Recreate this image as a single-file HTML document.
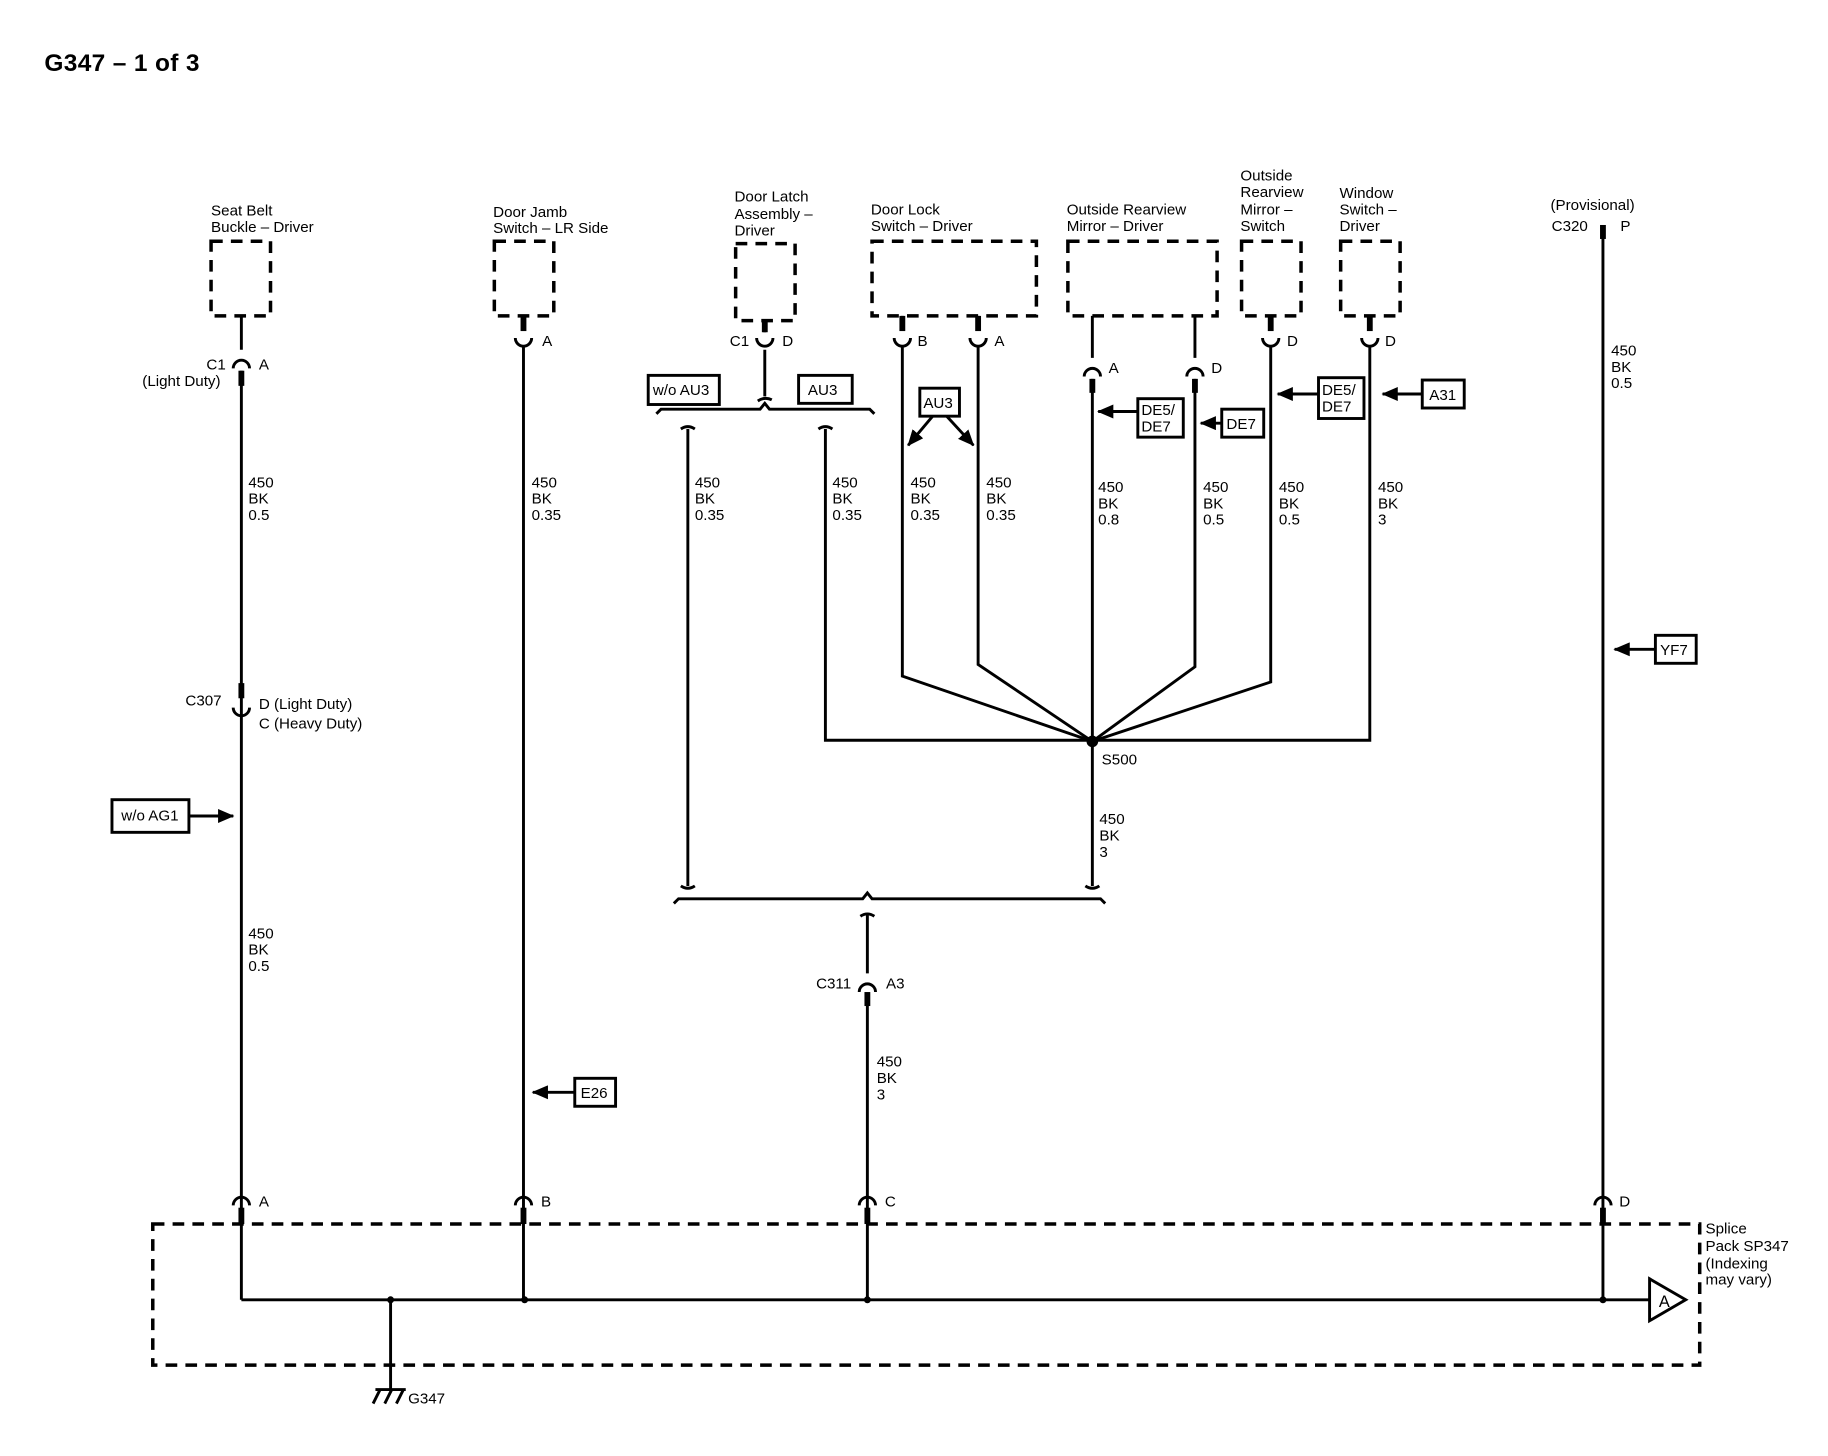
<!DOCTYPE html>
<html><head><meta charset="utf-8"><style>
html,body{margin:0;padding:0;background:#fff}
svg{display:block}
text{font-family:"Liberation Sans",Arial,sans-serif;font-size:13px;fill:#000}
</style></head><body>
<svg width="1828" height="1456" viewBox="0 0 1568 1249" xmlns="http://www.w3.org/2000/svg">
<defs>
<marker id="ar2" markerWidth="14" markerHeight="12" refX="13" refY="6" orient="auto" markerUnits="userSpaceOnUse"><path d="M0,0 L14,6 L0,12 z" fill="#000"/></marker>
</defs>
<text x="38" y="61" style="font-size:21px;font-weight:bold;letter-spacing:0.3px">G347 – 1 of 3</text>

<g fill="none" stroke="#000" stroke-width="3" stroke-dasharray="10,7">
<rect x="181" y="207" width="51" height="64"/>
<rect x="424" y="207" width="51" height="64"/>
<rect x="631" y="209" width="51" height="66"/>
<rect x="748" y="207" width="141" height="64"/>
<rect x="916" y="207" width="128" height="64"/>
<rect x="1065" y="207" width="51" height="64"/>
<rect x="1150" y="207" width="51" height="64"/>
<rect x="131" y="1050" width="1327" height="121"/>
</g>

<g fill="none" stroke="#000" stroke-width="2.5">
<path d="M207,271V300 M207,318V1115"/>
<path d="M449,271V282 M449,298V1115"/>
<path d="M656,275V285 M656,300V340"/>
<path d="M774,271V282 M774,298V580 L937,636"/>
<path d="M839,271V282 M839,298V570 L937,636"/>
<path d="M937,271V307 M937,325V760"/>
<path d="M1025,271V307 M1025,325V572 L937,636"/>
<path d="M1090,271V282 M1090,298V585 L937,636"/>
<path d="M1175,271V282 M1175,298V635 H708 V368"/>
<path d="M590,368V760"/>
<path d="M744,785V835 M744,853V1115"/>
<path d="M1375,195V1115"/>
<path d="M207,1115H1415"/>
<path d="M335,1115V1192"/>
<path d="M563,355 l4,-4 H652 l4,-5 l4,5 H746 l4,4"/>
<path d="M650,344 q6,-4 12,-1"/>
<path d="M584,368 q6,-4 12,0 M702,368 q6,-4 12,0"/>
<path d="M584,760 q6,4 12,0 M931,760 q6,4 12,0"/>
<path d="M578,775 l4,-4 H740 l4,-5 l4,5 H944 l4,4"/>
<path d="M738,786 q6,-4 12,0"/>
<path d="M200,316 A7,7 0 0 1 214,316"/>
<path d="M200,607 A7,7 0 0 0 214,607"/>
<path d="M442,290 A7,7 0 0 0 456,290"/>
<path d="M649,290 A7,7 0 0 0 663,290"/>
<path d="M767,290 A7,7 0 0 0 781,290"/>
<path d="M832,290 A7,7 0 0 0 846,290"/>
<path d="M1083,290 A7,7 0 0 0 1097,290"/>
<path d="M1168,290 A7,7 0 0 0 1182,290"/>
<path d="M930,323 A7,7 0 0 1 944,323"/>
<path d="M1018,323 A7,7 0 0 1 1032,323"/>
<path d="M737,851 A7,7 0 0 1 751,851"/>
<path d="M200,1034 A7,7 0 0 1 214,1034"/>
<path d="M442,1034 A7,7 0 0 1 456,1034"/>
<path d="M737,1034 A7,7 0 0 1 751,1034"/>
<path d="M1368,1034 A7,7 0 0 1 1382,1034"/>
<path d="M322,1192H348 M326,1192 l-6,12 M336,1192 l-6,12 M346,1192 l-6,12"/>
<path d="M1415,1097 L1446,1115 L1415,1133 Z"/>
<rect x="96" y="686" width="66" height="28"/>
<rect x="493" y="925" width="35" height="24"/>
<rect x="556" y="322" width="61" height="25"/>
<rect x="685" y="322" width="46" height="24"/>
<rect x="789" y="333" width="34" height="24"/>
<rect x="976" y="342" width="39" height="33"/>
<rect x="1048" y="351" width="36" height="24"/>
<rect x="1131" y="324" width="39" height="35"/>
<rect x="1220" y="326" width="36" height="24"/>
<rect x="1420" y="545" width="35" height="24"/>
</g>
<g stroke="#000" stroke-width="2.5" fill="none">
<path d="M162,700H200" marker-end="url(#ar2)"/>
<path d="M493,937H457" marker-end="url(#ar2)"/>
<path d="M976,353H942" marker-end="url(#ar2)"/>
<path d="M1048,363H1030" marker-end="url(#ar2)"/>
<path d="M1131,338H1096" marker-end="url(#ar2)"/>
<path d="M1220,338H1186" marker-end="url(#ar2)"/>
<path d="M1420,557H1385" marker-end="url(#ar2)"/>
<path d="M800,357L779,382" marker-end="url(#ar2)"/>
<path d="M812,357L835,382" marker-end="url(#ar2)"/>
</g>
<g fill="#000">
<rect x="204.5" y="318" width="5" height="13"/>
<rect x="204.5" y="586" width="5" height="13"/>
<rect x="446.5" y="271" width="5" height="13"/>
<rect x="653.5" y="275" width="5" height="10"/>
<rect x="771.5" y="271" width="5" height="13"/>
<rect x="836.5" y="271" width="5" height="13"/>
<rect x="1087.5" y="271" width="5" height="13"/>
<rect x="1172.5" y="271" width="5" height="13"/>
<rect x="934.5" y="325" width="5" height="12"/>
<rect x="1022.5" y="325" width="5" height="12"/>
<rect x="741.5" y="851" width="5" height="12"/>
<rect x="204.5" y="1036" width="5" height="14"/>
<rect x="446.5" y="1036" width="5" height="14"/>
<rect x="741.5" y="1036" width="5" height="14"/>
<rect x="1372.5" y="1036" width="5" height="14"/>
<rect x="1372.5" y="193" width="5" height="12"/>
<circle cx="937" cy="636" r="5"/>
<circle cx="335" cy="1115" r="3"/><circle cx="450" cy="1115" r="3"/><circle cx="744" cy="1115" r="3"/><circle cx="1375" cy="1115" r="3"/>
</g>

<text x="181" y="185">Seat Belt</text><text x="181" y="199">Buckle – Driver</text>
<text x="423" y="186">Door Jamb</text><text x="423" y="200">Switch – LR Side</text>
<text x="630" y="173">Door Latch</text><text x="630" y="188">Assembly –</text><text x="630" y="202">Driver</text>
<text x="747" y="184">Door Lock</text><text x="747" y="198">Switch – Driver</text>
<text x="915" y="184">Outside Rearview</text><text x="915" y="198">Mirror – Driver</text>
<text x="1064" y="155">Outside</text><text x="1064" y="169">Rearview</text><text x="1064" y="184">Mirror –</text><text x="1064" y="198">Switch</text>
<text x="1149" y="170">Window</text><text x="1149" y="184">Switch –</text><text x="1149" y="198">Driver</text>
<text x="1330" y="180">(Provisional)</text><text x="1331" y="198">C320</text><text x="1390" y="198">P</text>

<text x="177" y="317">C1</text><text x="222" y="317">A</text><text x="122" y="331">(Light Duty)</text>
<text x="465" y="297">A</text>
<text x="626" y="297">C1</text><text x="671" y="297">D</text>
<text x="787" y="297">B</text><text x="853" y="297">A</text>
<text x="951" y="320">A</text><text x="1039" y="320">D</text>
<text x="1104" y="297">D</text><text x="1188" y="297">D</text>
<text x="159" y="605">C307</text><text x="222" y="608">D (Light Duty)</text><text x="222" y="625">C (Heavy Duty)</text>
<text x="945" y="656">S500</text>
<text x="700" y="848">C311</text><text x="760" y="848">A3</text>
<text x="222" y="1035">A</text><text x="464" y="1035">B</text><text x="759" y="1035">C</text><text x="1389" y="1035">D</text>
<text x="350" y="1204">G347</text>
<text x="1463" y="1058">Splice</text><text x="1463" y="1073">Pack SP347</text><text x="1463" y="1088">(Indexing</text><text x="1463" y="1102">may vary)</text>

<text x="104" y="704">w/o AG1</text>
<text x="498" y="942">E26</text>
<text x="560" y="339">w/o AU3</text>
<text x="693" y="339">AU3</text>
<text x="792" y="350">AU3</text>
<text x="979" y="356">DE5/</text><text x="979" y="370">DE7</text>
<text x="1052" y="368">DE7</text>
<text x="1134" y="339">DE5/</text><text x="1134" y="353">DE7</text>
<text x="1226" y="343">A31</text>
<text x="1424" y="562">YF7</text>

<g>
<text x="213" y="418">450</text><text x="213" y="432">BK</text><text x="213" y="446">0.5</text>
<text x="456" y="418">450</text><text x="456" y="432">BK</text><text x="456" y="446">0.35</text>
<text x="596" y="418">450</text><text x="596" y="432">BK</text><text x="596" y="446">0.35</text>
<text x="714" y="418">450</text><text x="714" y="432">BK</text><text x="714" y="446">0.35</text>
<text x="781" y="418">450</text><text x="781" y="432">BK</text><text x="781" y="446">0.35</text>
<text x="846" y="418">450</text><text x="846" y="432">BK</text><text x="846" y="446">0.35</text>
<text x="942" y="422">450</text><text x="942" y="436">BK</text><text x="942" y="450">0.8</text>
<text x="1032" y="422">450</text><text x="1032" y="436">BK</text><text x="1032" y="450">0.5</text>
<text x="1097" y="422">450</text><text x="1097" y="436">BK</text><text x="1097" y="450">0.5</text>
<text x="1182" y="422">450</text><text x="1182" y="436">BK</text><text x="1182" y="450">3</text>
<text x="1382" y="305">450</text><text x="1382" y="319">BK</text><text x="1382" y="333">0.5</text>
<text x="943" y="707">450</text><text x="943" y="721">BK</text><text x="943" y="735">3</text>
<text x="213" y="805">450</text><text x="213" y="819">BK</text><text x="213" y="833">0.5</text>
<text x="752" y="915">450</text><text x="752" y="929">BK</text><text x="752" y="943">3</text>
</g>
<text x="1423" y="1121" style="font-size:14px">A</text>
</svg>
</body></html>
